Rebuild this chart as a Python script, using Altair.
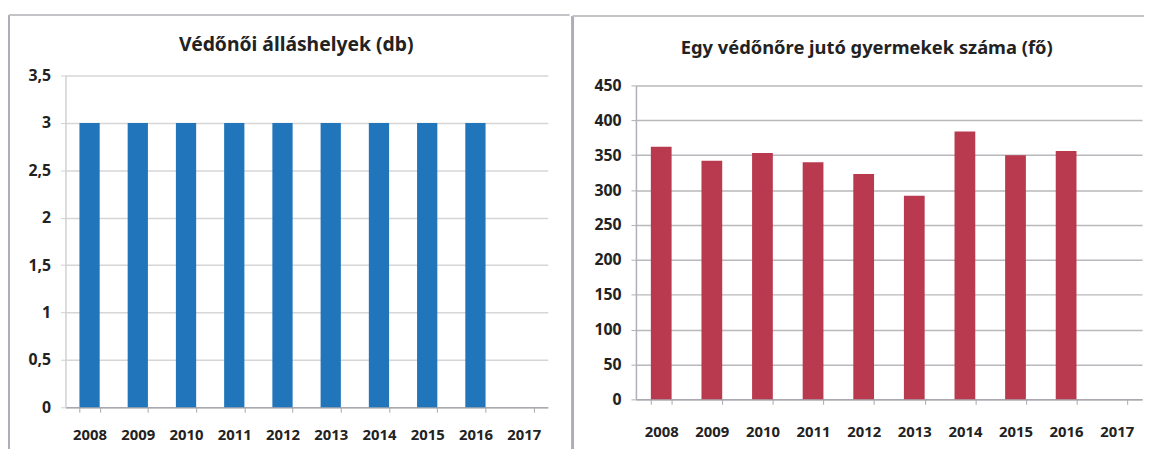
import altair as alt
import pandas as pd

years = ["2008", "2009", "2010", "2011", "2012", "2013", "2014", "2015", "2016", "2017"]
allashelyek = [3, 3, 3, 3, 3, 3, 3, 3, 3, None]
gyermekek = [362, 342, 353, 340, 323, 292, 384, 350, 356, None]
left_ticks = [0, 0.5, 1, 1.5, 2, 2.5, 3, 3.5]
right_ticks = [0, 50, 100, 150, 200, 250, 300, 350, 400, 450]
left_title = "Védőnői álláshelyek (db)"
right_title = "Egy védőnőre jutó gyermekek száma (fő)"

FONT = "Noto Sans"
FRAME = "#aeaeb4"

left_df = pd.DataFrame({"ev": years, "ertek": allashelyek})
right_df = pd.DataFrame({"ev": years, "ertek": gyermekek})


def panel(df, color, ymax, ticks, w, h, yrange, frac, grid_color, dom_color, fr,
          title, tpos, tsize, xpad, lw):
    x1, x2, y1, y2 = fr
    xs = alt.X(
        "ev:N",
        scale=alt.Scale(domain=years, paddingInner=1 - frac, paddingOuter=(1 - frac) / 2),
        axis=alt.Axis(
            title=None, labelAngle=0, tickBand="extent", tickSize=5, tickColor="#a8a8ae",
            domainColor="#a8a8ae", domainWidth=1.5, labelFont=FONT, labelFontSize=15,
            labelFontWeight="bold", labelColor="#222222", labelPadding=xpad, grid=False,
        ),
    )
    ys = alt.Y(
        "ertek:Q",
        scale=alt.Scale(domain=[0, ymax], nice=False, range=yrange),
        axis=alt.Axis(
            title=None, values=ticks, labelExpr="replace(toString(datum.value), '.', ',')",
            grid=True, gridColor=grid_color, gridWidth=1.5, tickSize=5, tickColor=dom_color,
            domainColor=dom_color, domainWidth=1.5, labelFont=FONT, labelFontSize=16,
            labelFontWeight="bold", labelColor="#222222", labelPadding=10,
        ),
    )
    bars = alt.Chart(df).mark_bar(color=color).encode(x=xs, y=ys)
    base = alt.Chart(alt.Data(values=[{}]))
    layers = [
        bars,
        base.mark_rule(color=FRAME, strokeWidth=lw).encode(
            x=alt.value(x1), y=alt.value(y1), y2=alt.value(y2)),
        base.mark_rule(color="#c4c4c8", strokeWidth=2).encode(
            x=alt.value(x1), x2=alt.value(x2), y=alt.value(y1)),
        base.mark_text(font=FONT, fontSize=tsize, fontWeight="bold", color="#222222",
                       align="center", baseline="middle").encode(
            x=alt.value(tpos[0]), y=alt.value(tpos[1]), text=alt.value(title)),
    ]
    return alt.layer(*layers).properties(width=w, height=h)


left = panel(left_df, "#2176bb", 3.5, left_ticks, 487, 335, [335, 0], 0.42, "#d6d6d8", "#d0d0d4",
             (-57, 509, -61, 377), left_title, (233, -31), 19.5, 16, 2)
right = panel(right_df, "#b93a4f", 450, right_ticks, 511, 327, [327, 10], 0.41, "#b8b8bd", "#b0b0b6",
              (-64, 513, -60, 377), right_title, (233, -28), 18.5, 21, 3)

chart = alt.hconcat(left, right, spacing=0).properties(
    padding={"left": 0, "top": 4, "right": 0, "bottom": 0}
).configure_view(strokeWidth=0)

chart.save("out.html", embed_options={"renderer": "svg", "actions": False})
